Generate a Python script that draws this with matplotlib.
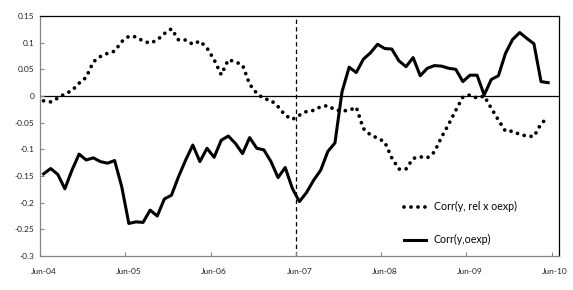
import numpy as np
import pandas as pd
import matplotlib
matplotlib.use("Agg")
import matplotlib.pyplot as plt

# ---- data -------------------------------------------------------------
months = [d.strftime("%b-%y") for d in pd.date_range("2004-06-01", periods=73, freq="MS")]

corr_rel_x_oexp = [
    -0.009, -0.011, -0.004, 0.004, 0.010, 0.024, 0.035, 0.064, 0.074, 0.080, 0.084, 0.102,
    0.112, 0.111, 0.103, 0.099, 0.105, 0.117, 0.126, 0.105, 0.105, 0.097, 0.103, 0.090,
    0.068, 0.040, 0.068, 0.064, 0.058, 0.022, 0.005, -0.005, -0.008, -0.020, -0.036, -0.044,
    -0.036, -0.029, -0.027, -0.020, -0.018, -0.026, -0.028, -0.027, -0.021, -0.061, -0.073, -0.079,
    -0.086, -0.116, -0.137, -0.137, -0.117, -0.114, -0.116, -0.105, -0.077, -0.053, -0.027, -0.002,
    0.002, -0.004, 0.000, -0.023, -0.045, -0.066, -0.066, -0.072, -0.075, -0.076, -0.052, -0.040,
]

corr_oexp = [
    -0.146, -0.136, -0.147, -0.174, -0.139, -0.109, -0.120, -0.116, -0.123, -0.126, -0.121, -0.170,
    -0.239, -0.236, -0.237, -0.214, -0.225, -0.193, -0.186, -0.151, -0.120, -0.092, -0.123, -0.098,
    -0.115, -0.083, -0.075, -0.089, -0.108, -0.078, -0.098, -0.101, -0.123, -0.153, -0.134, -0.173,
    -0.198, -0.181, -0.158, -0.139, -0.104, -0.088, 0.008, 0.054, 0.044, 0.069, 0.081, 0.097,
    0.089, 0.088, 0.066, 0.055, 0.072, 0.038, 0.052, 0.057, 0.056, 0.052, 0.050, 0.027,
    0.039, 0.039, 0.002, 0.031, 0.038, 0.080, 0.106, 0.119, 0.108, 0.098, 0.027, 0.025,
]

series_labels = ["Corr(y, rel x oexp)", "Corr(y,oexp)"]
y_ticks = [0.15, 0.1, 0.05, 0, -0.05, -0.1, -0.15, -0.2, -0.25, -0.3]
y_tick_labels = ["0.15", "0.1", "0.05", "0", "-0.05", "-0.1", "-0.15", "-0.2", "-0.25", "-0.3"]
marker_month = "Jun-07"

# ---- figure -----------------------------------------------------------
plt.rcParams["font.family"] = ["Lato", "DejaVu Sans"]
fig = plt.figure(figsize=(5.73, 2.90), dpi=100)
ax = fig.add_axes([40 / 573, 1 - 256 / 290, 518.8 / 573, 240 / 290])

n_cat = len(months)
x = np.arange(len(corr_oexp))

ax.axhline(0, color="black", lw=0.9, zorder=1)
ax.axvline(months.index(marker_month) - 0.5, color="black", lw=0.9,
           linestyle=(0, (3.5, 2.5)), zorder=1)

ax.plot(x, corr_rel_x_oexp, color="black", lw=2.7, linestyle=(0, (0.01, 1.85)),
        dash_capstyle="round", solid_joinstyle="round", label=series_labels[0], zorder=3)
ax.plot(x, corr_oexp, color="black", lw=2.2, solid_joinstyle="round",
        label=series_labels[1], zorder=3)

ax.set_xlim(-0.5, n_cat - 0.5)
ax.set_ylim(-0.3, 0.15)

ax.set_yticks(y_ticks)
ax.set_yticklabels(y_tick_labels)

label_idx = list(range(0, n_cat, 12))
ax.set_xticks([i - 0.5 for i in label_idx])
ax.set_xticklabels([])
ax.set_xticks(label_idx, minor=True)
ax.set_xticklabels([months[i] for i in label_idx], minor=True)

ax.tick_params(axis="x", which="major", direction="in", length=3, color="#868686", width=0.8)
ax.tick_params(axis="x", which="minor", length=0, labelsize=6, pad=9, labelcolor="#222222")
ax.tick_params(axis="y", direction="in", length=3, color="#868686", width=0.8,
               labelsize=6, pad=4, labelcolor="#222222")

for side in ["top", "right"]:
    ax.spines[side].set_color("black")
    ax.spines[side].set_linewidth(0.9)
for side in ["left", "bottom"]:
    ax.spines[side].set_color("#868686")
    ax.spines[side].set_linewidth(0.9)

leg = ax.legend(loc="upper left", bbox_to_anchor=(0.7016, 0.228), frameon=False,
                fontsize=7.7, handlelength=2.1, handletextpad=0.7, labelspacing=2.05,
                borderpad=0, borderaxespad=0)

fig.savefig("out.png", dpi=100)
